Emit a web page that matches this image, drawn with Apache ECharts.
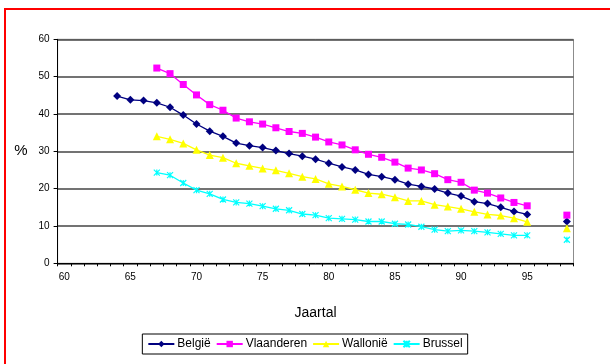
<!DOCTYPE html>
<html>
<head>
<meta charset="utf-8">
<script src="https://cdn.jsdelivr.net/npm/echarts@6/dist/echarts.min.js"></script>
<style>
  html, body { margin: 0; padding: 0; background: #fff; overflow: hidden; }
  #frame {
    position: absolute; left: 4px; top: 8px; width: 640px; height: 400px;
    border: 2px solid #ff0000; box-sizing: border-box;
  }
  #chart { position: absolute; left: 0; top: 0; width: 610px; height: 364px; }
</style>
</head>
<body>
<div id="frame"></div>
<div id="chart"></div>
<script>
// jaartallen 60..98
const years = [];
for (let y = 60; y <= 98; y++) years.push(String(y));

// waarden vanaf 1964 t/m 1995, plus 1998 (96 en 97 ontbreken)
const belgie = [
  null, null, null, null,
  44.8, 43.8, 43.6, 43.0, 41.8, 39.7, 37.3, 35.4, 34.0, 32.2, 31.5, 31.0,
  30.2, 29.4, 28.7, 27.9, 26.8, 25.8, 25.0, 23.8, 23.2, 22.4, 21.2, 20.6,
  19.9, 18.8, 18.0, 16.5, 16.0, 15.0, 13.9, 13.1,
  null, null, 11.2
];
const vlaanderen = [
  null, null, null, null, null, null, null,
  52.3, 50.8, 47.9, 45.1, 42.5, 41.0, 38.9, 37.9, 37.3, 36.3, 35.3, 34.8,
  33.8, 32.5, 31.7, 30.4, 29.2, 28.4, 27.1, 25.5, 25.0, 24.0, 22.4, 21.7,
  19.6, 18.8, 17.5, 16.3, 15.4,
  null, null, 12.9
];
const wallonie = [
  null, null, null, null, null, null, null,
  34.0, 33.2, 32.1, 30.4, 29.0, 28.3, 26.8, 26.1, 25.4, 24.9, 24.1, 23.2,
  22.6, 21.3, 20.6, 19.7, 18.8, 18.5, 17.7, 16.7, 16.7, 15.7, 15.2, 14.6,
  13.8, 13.1, 12.8, 12.1, 11.1,
  null, null, 9.4
];
const brussel = [
  null, null, null, null, null, null, null,
  24.3, 23.6, 21.5, 19.6, 18.6, 17.1, 16.3, 16.0, 15.3, 14.6, 14.2, 13.2,
  12.9, 12.1, 11.9, 11.7, 11.2, 11.2, 10.6, 10.4, 9.8, 9.0, 8.6, 8.8,
  8.6, 8.3, 7.9, 7.5, 7.5,
  null, null, 6.3
];

const chart = echarts.init(document.getElementById('chart'));

const starSymbol = 'path://M0,0L10,10M10,0L0,10M5,0L5,10';

function lineSeries(name, data, color, symbol, size, extra) {
  return Object.assign({
    name: name,
    type: 'line',
    data: data,
    symbol: symbol,
    symbolSize: size,
    showAllSymbol: true,
    connectNulls: false,
    animation: false,
    lineStyle: { color: color, width: 1.3 },
    itemStyle: { color: color },
  }, extra || {});
}

const option = {
  animation: false,
  textStyle: { fontFamily: 'Liberation Sans, Arial, sans-serif' },
  grid: {
    left: 57.6, right: 36.5, top: 39.3, bottom: 100.7,
    show: true, borderColor: '#8c8c8c', borderWidth: 1,
  },
  legend: {
    left: 'center',
    top: 334,
    padding: [4, 5],
    itemGap: 5,
    itemWidth: 26,
    itemHeight: 8,
    borderColor: '#000',
    borderWidth: 1,
    textStyle: { fontSize: 12, color: '#000', padding: [0, 0, 0, -2] },
    data: ['België', 'Vlaanderen', 'Wallonië', 'Brussel'],
  },
  xAxis: {
    type: 'category',
    data: years,
    boundaryGap: true,
    name: 'Jaartal',
    nameLocation: 'middle',
    nameGap: 43,
    nameTextStyle: { fontSize: 14, color: '#000' },
    axisLine: { lineStyle: { color: '#000', width: 1 } },
    axisTick: { show: true, interval: 0, length: 3, lineStyle: { color: '#000' } },
    axisLabel: { interval: 4, fontSize: 10, color: '#000', margin: 9 },
    splitLine: { show: false },
  },
  yAxis: {
    type: 'value',
    min: 0, max: 60, interval: 10,
    name: '%',
    nameLocation: 'middle',
    nameRotate: 0,
    nameGap: 30,
    nameTextStyle: { fontSize: 15, color: '#000' },
    axisLine: { show: true, lineStyle: { color: '#000', width: 1 } },
    axisTick: { show: true, length: 4, lineStyle: { color: '#000' } },
    axisLabel: { fontSize: 10, color: '#000', margin: 8 },
    splitLine: { show: true, lineStyle: { color: '#444', width: 1.5 } },
  },
  series: [
    lineSeries('België', belgie, '#000080', 'diamond', 8),
    lineSeries('Vlaanderen', vlaanderen, '#ff00ff', 'rect', 7),
    lineSeries('Wallonië', wallonie, '#ffff00', 'triangle', 8),
    lineSeries('Brussel', brussel, '#00ffff', starSymbol, 6, {
      itemStyle: { color: 'none', borderColor: '#00ffff', borderWidth: 1.2 },
    }),
  ],
};

chart.setOption(option);
</script>
</body>
</html>
